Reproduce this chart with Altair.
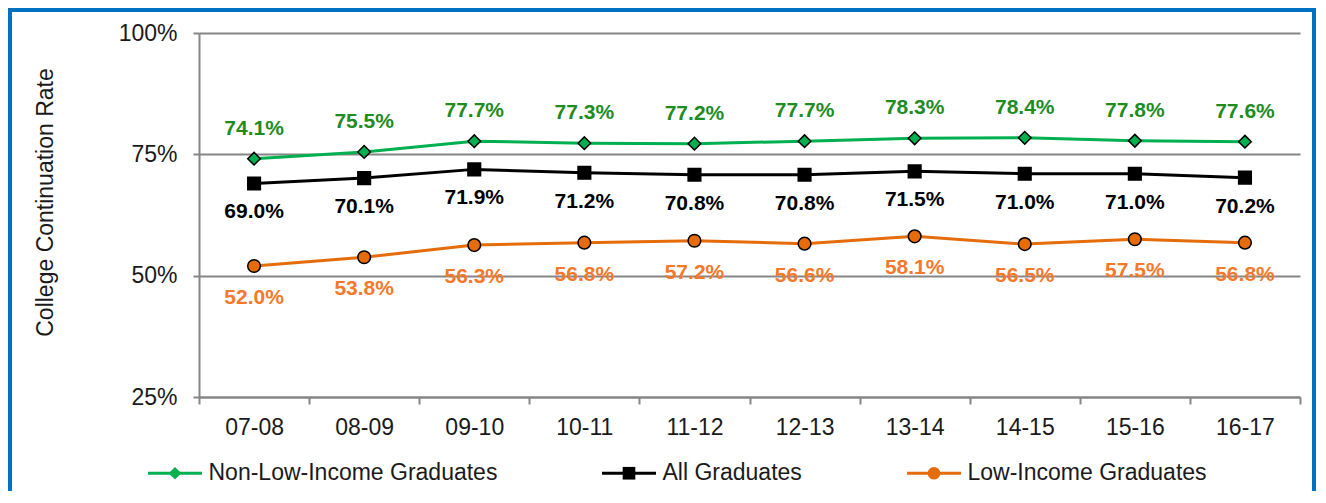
import altair as alt
import pandas as pd

years = ["07-08", "08-09", "09-10", "10-11", "11-12", "12-13", "13-14", "14-15", "15-16", "16-17"]
non_low_income = [74.1, 75.5, 77.7, 77.3, 77.2, 77.7, 78.3, 78.4, 77.8, 77.6]
all_graduates = [69.0, 70.1, 71.9, 71.2, 70.8, 70.8, 71.5, 71.0, 71.0, 70.2]
low_income = [52.0, 53.8, 56.3, 56.8, 57.2, 56.6, 58.1, 56.5, 57.5, 56.8]
series_names = ["Non-Low-Income Graduates", "All Graduates", "Low-Income Graduates"]
marker_codes = ["N", "A", "L"]
line_colors = ["#00B050", "#000000", "#E46C0A"]
label_colors = ["#1E8C1E", "#000000", "#F5792A"]
marker_shapes = ["diamond", "square", "circle"]
label_dy = [-30, 29, 32]
y_ticks = [25, 50, 75, 100]

rows = []
for name, code, vals in zip(series_names, marker_codes, [non_low_income, all_graduates, low_income]):
    for yr, v in zip(years, vals):
        rows.append({"year": yr, "value": v, "series": name, "marker": code,
                     "label": f"{v:.1f}%"})
df = pd.DataFrame(rows)

FONT = "Liberation Sans"
GRAY = "#868686"
TXT = "#1A1A1A"

code_to_name = " : ".join(
    f"datum.label == '{c}' ? '{n}'" for c, n in zip(marker_codes[:-1], series_names[:-1])
) + f" : '{series_names[-1]}'"

x_enc = alt.X(
    "year:N", sort=years,
    scale=alt.Scale(type="band", domain=years, paddingInner=0, paddingOuter=0),
    axis=alt.Axis(title=None, labelAngle=0, labelFontSize=23, labelFont=FONT, labelColor=TXT,
                  tickBand="extent", tickSize=7, tickColor=GRAY, tickWidth=2,
                  domainColor=GRAY, domainWidth=2, labelPadding=12, grid=False),
)
y_enc = alt.Y(
    "value:Q",
    scale=alt.Scale(domain=[25, 100], nice=False, zero=False),
    axis=alt.Axis(values=y_ticks, labelExpr="datum.value + '%'",
                  title="College Continuation Rate", titleFont=FONT, titleFontSize=23,
                  titleFontWeight="normal", titleColor=TXT, titleX=-154, titleY=169,
                  titleAlign="center", titleBaseline="middle",
                  labelFont=FONT, labelFontSize=23, labelColor=TXT, labelPadding=16,
                  tickSize=6, tickColor=GRAY, tickWidth=2,
                  domainColor=GRAY, domainWidth=2,
                  grid=True, gridColor=GRAY, gridWidth=2),
)

base = alt.Chart(df).encode(x=x_enc, y=y_enc)

frame = alt.Chart(pd.DataFrame({"f": [0]})).mark_rect(
    fillOpacity=0, stroke="#0070C0", strokeWidth=4
).encode(x=alt.value(-189), x2=alt.value(1115), y=alt.value(-23), y2=alt.value(520))

lines = base.mark_line(strokeWidth=3).encode(
    color=alt.Color(
        "series:N",
        scale=alt.Scale(domain=series_names, range=line_colors),
        legend=alt.Legend(orient="none", legendX=-52.5, legendY=411.5, direction="horizontal",
                          title=None, symbolType="stroke", symbolSize=2916, symbolStrokeWidth=3,
                          labelFont=FONT, labelFontSize=23, labelColor=TXT, labelOffset=5,
                          columnPadding=98, labelLimit=600, padding=0),
    )
)

pt_legend = alt.Legend(orient="none", legendX=-35.5, legendY=428.5, direction="horizontal",
                       title=None, symbolSize=160, symbolStrokeWidth=1.5,
                       symbolStrokeColor="black", symbolOpacity=1,
                       labelExpr=code_to_name,
                       labelFont=FONT, labelFontSize=23, labelOffset=22, labelOpacity=0,
                       columnPadding=120, labelLimit=600, padding=0)

points = base.mark_point(filled=True, size=160, stroke="black", strokeWidth=1.5, opacity=1).encode(
    fill=alt.Fill("marker:N", scale=alt.Scale(domain=marker_codes, range=line_colors),
                  legend=pt_legend),
    shape=alt.Shape("marker:N", scale=alt.Scale(domain=marker_codes, range=marker_shapes),
                    legend=pt_legend),
)

texts = []
for name, col, dy in zip(series_names, label_colors, label_dy):
    texts.append(
        base.mark_text(dy=dy, font=FONT, fontSize=21, fontWeight="bold", color=col,
                       baseline="middle")
        .encode(text="label:N")
        .transform_filter(alt.datum.series == name)
    )

chart = alt.layer(frame, lines, points, *texts).properties(
    width=1101, height=364,
    padding={"left": 191, "top": 25, "right": 16, "bottom": 94},
    autosize=alt.AutoSizeParams(type="none"),
    background="white",
).configure_view(strokeWidth=0)

chart.save("out.html", embed_options={"renderer": "svg", "actions": False})
